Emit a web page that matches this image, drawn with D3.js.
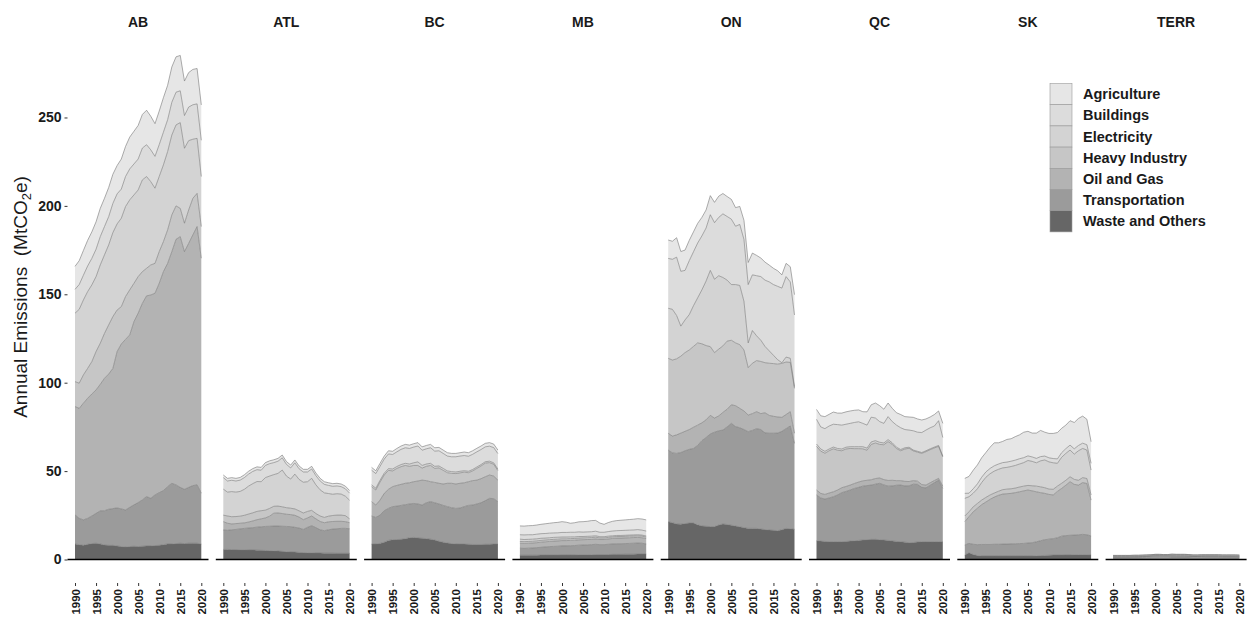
<!DOCTYPE html>
<html>
<head>
<meta charset="utf-8">
<script src="https://cdn.jsdelivr.net/npm/d3@7"></script>
<style>
  body { margin: 0; background: #fff; }
  svg { display: block; }
  text { font-family: "Liberation Sans", Arial, Helvetica, sans-serif; }
</style>
</head>
<body>
<svg id="chart" width="1250" height="618"></svg>
<script>
// ---- data -----------------------------------------------------------
const years = [1990,1991,1992,1993,1994,1995,1996,1997,1998,1999,2000,2001,2002,2003,2004,2005,
               2006,2007,2008,2009,2010,2011,2012,2013,2014,2015,2016,2017,2018,2019,2020];
const yearTicks = [1990, 1995, 2000, 2005, 2010, 2015, 2020];
const emissionTicks = [0, 50, 100, 150, 200, 250];
const regions = ["AB", "ATL", "BC", "MB", "ON", "QC", "SK", "TERR"];
// stacking order, bottom layer first
const sectors = ["Waste and Others", "Transportation", "Oil and Gas", "Heavy Industry",
                 "Electricity", "Buildings", "Agriculture"];
const sectorFills = ["#666666", "#9b9b9b", "#b3b3b3", "#c6c6c6", "#d3d3d3", "#dcdcdc", "#e6e6e6"];

// annual emissions per sector (MtCO2e), 1990-2020
const AB = {
  "Waste and Others": [8.8,8.4,8.0,8.6,9.0,9.2,8.8,8.2,8.0,8.0,7.7,7.3,7.1,7.3,7.5,7.3,7.5,7.7,7.7,7.9,8.0,8.4,8.8,8.8,9.0,9.2,9.0,9.2,9.2,9.2,8.8],
  "Transportation":   [16.4,14.9,14.4,14.7,15.6,16.9,18.7,19.4,20.4,20.8,21.5,21.3,20.9,22.2,23.4,24.9,26.2,27.9,26.9,28.6,29.8,30.6,32.4,34.3,33.2,31.6,30.7,31.6,32.6,33.0,28.7],
  "Oil and Gas":      [61.3,62.2,66.0,67.9,69.0,69.8,71.6,74.9,76.5,79.3,88.4,93.3,96.5,97.5,103.6,107.1,111.2,113.5,115.0,114.1,118.4,123.8,126.3,131.0,138.9,141.8,134.4,138.0,141.8,146.1,132.9],
  "Heavy Industry":   [14.1,14.2,16.0,16.9,18.3,21.7,23.2,25.4,27.8,29.3,23.5,21.1,24.2,25.5,21.7,20.7,17.9,15.6,17.0,16.9,17.9,17.0,18.9,20.8,18.9,16.0,16.1,18.9,20.7,18.8,17.9],
  "Electricity":      [38.7,41.8,42.4,43.4,43.4,42.4,44.3,44.4,45.2,47.5,48.7,50.0,50.9,50.9,50.0,49.0,51.9,51.9,47.1,42.5,42.5,43.4,44.3,45.2,45.8,48.5,42.4,39.2,33.4,31.1,28.3],
  "Buildings":        [13.5,14,14,14.5,15,15.5,16,16,16,16.5,17,16.5,17,17.5,17.5,17.5,18,18,18,18,18,18.5,18,18.5,18.5,18,18.5,19,19.5,19.5,20.5],
  "Agriculture":      [13,13.5,14,14.5,15,15.5,16,16,16.5,16.5,16,17,17,18,18.5,19,19,19.5,19,18.5,19,19.5,19.5,20,20,20,19.5,19.5,20,20,20]
};
const ATL = {
  "Waste and Others": [5.7,5.7,5.6,5.6,5.5,5.5,5.4,5.4,5.3,5.2,5.1,5.0,4.9,4.8,4.6,4.4,4.3,4.2,4.0,3.9,3.8,3.8,3.7,3.7,3.6,3.6,3.6,3.5,3.5,3.5,3.5],
  "Transportation":   [11.0,10.8,11.2,11.4,11.8,12.1,12.4,12.6,13.0,13.3,13.6,13.8,14.0,14.1,14.2,14.3,14.3,14.0,13.8,13.1,14.4,15.3,14.3,13.1,12.7,13.2,13.6,13.9,14.1,14.1,13.9],
  "Oil and Gas":      [4.7,4.0,3.3,3.3,3.2,3.1,3.4,3.8,4.2,4.5,4.8,5.7,7.3,7.4,7.2,6.9,6.8,6.8,6.2,5.5,5.3,5.5,5.0,4.7,4.5,4.5,4.3,4.2,4.0,3.8,3.4],
  "Heavy Industry":   [3.7,4.1,4.1,4.0,4.0,4.3,4.5,4.6,4.7,4.6,4.4,4.4,3.9,3.9,3.8,3.7,3.6,3.6,3.5,3.8,3.7,3.2,3.0,3.1,3.0,3.2,3.4,3.5,3.5,3.4,2.2],
  "Electricity":      [14.7,13.5,14.2,13.8,14.0,14.7,15.8,16.5,16.9,16.4,18.4,18.3,17.9,18.5,20.8,17.9,16.5,19.7,17.8,17.4,16.8,18.1,16.2,14.8,13.9,12.8,12.0,12.1,11.9,11.0,10.5],
  "Buildings":        [6.5,6.3,6.4,6.3,6.4,6.6,6.8,6.9,6.7,6.5,6.9,7.0,6.8,6.9,6.9,6.6,6.3,6.4,6.0,5.8,5.5,5.3,5.2,5.0,4.8,4.6,4.5,4.4,4.2,4.2,4.0],
  "Agriculture":      [1.5,1.5,1.5,1.5,1.5,1.6,1.6,1.6,1.6,1.6,1.6,1.6,1.6,1.6,1.6,1.6,1.6,1.6,1.6,1.5,1.5,1.5,1.5,1.5,1.5,1.5,1.5,1.5,1.5,1.5,1.5]
};
const BC = {
  "Waste and Others": [8.7,8.8,9.1,9.8,10.8,11.2,11.3,11.4,11.8,12.3,12.5,12.2,12.0,11.8,11.5,11.0,10.3,9.8,9.3,9.0,8.8,8.7,8.7,8.6,8.5,8.5,8.5,8.6,8.6,8.7,8.7],
  "Transportation":   [15.9,15.0,16.0,17.8,18.1,18.7,18.9,19.2,19.2,19.1,19.2,19.2,18.8,20.3,21.2,21.1,21.1,20.8,20.6,20.3,20.1,20.4,21.2,22.0,22.3,22.9,23.6,24.7,26.0,25.7,24.0],
  "Oil and Gas":      [8.1,7.0,8.5,9.8,10.8,11.3,11.7,11.9,12.1,12.0,12.3,13.0,14.1,12.5,11.3,11.5,11.7,12.1,13.2,13.8,13.8,14.0,13.5,13.4,13.8,13.5,13.6,13.5,13.2,12.8,12.2],
  "Heavy Industry":   [8.5,8.5,10.2,10.4,10.7,8.9,9.6,10.0,10.1,9.3,9.2,8.8,6.8,8.1,9.2,7.9,8.7,7.7,6.0,5.6,5.9,5.9,6.0,5.1,5.5,6.6,7.2,7.7,7.0,6.7,5.4],
  "Electricity":      [1.0,1.0,1.0,1.0,1.0,1.1,1.1,1.2,1.2,1.3,1.5,2.0,1.5,1.3,1.2,1.2,1.1,1.1,1.0,1.0,0.9,0.9,0.8,0.8,0.8,0.8,0.8,0.8,0.8,0.8,0.8],
  "Buildings":        [8.3,8.3,7.9,8.0,8.3,8.2,8.3,8.6,8.8,8.8,8.9,9.0,8.6,8.6,8.8,8.6,8.6,8.5,8.4,8.4,8.6,8.6,8.6,8.5,8.6,8.6,8.5,8.4,8.5,8.6,8.8],
  "Agriculture":      [1.6,1.6,1.7,1.7,1.8,1.8,1.9,1.9,1.9,1.9,1.9,1.9,1.9,1.9,1.9,1.9,1.9,1.9,1.9,1.9,1.9,1.9,2.0,2.0,2.0,2.0,2.0,2.0,2.0,2.0,2.0]
};
const MB = {
  "Waste and Others": [2.4,2.4,2.4,2.4,2.4,2.5,2.5,2.5,2.5,2.5,2.6,2.6,2.6,2.6,2.7,2.7,2.7,2.7,2.8,2.8,2.8,2.8,2.9,2.9,2.9,3.0,3.0,3.0,3.1,3.1,3.1],
  "Transportation":   [4.0,3.9,4.0,4.1,4.3,4.4,4.6,4.8,4.9,5.0,5.1,5.1,5.2,5.3,5.4,5.5,5.6,5.7,5.8,5.6,5.6,5.8,5.9,6.0,6.0,6.0,6.1,6.2,6.2,6.1,5.7],
  "Oil and Gas":      [2.8,2.8,2.8,2.8,2.8,2.9,2.9,2.9,3.0,3.0,3.0,3.0,3.0,3.0,3.0,3.0,3.0,3.0,3.0,2.9,2.9,3.0,3.1,3.2,3.2,3.2,3.2,3.2,3.2,3.1,3.0],
  "Heavy Industry":   [1.0,1.0,1.0,1.0,1.0,1.0,1.0,1.0,1.0,1.0,1.0,1.0,1.0,1.0,1.0,1.0,1.0,1.0,1.0,0.9,0.9,0.9,0.9,0.9,0.9,0.9,0.9,0.9,0.9,0.9,0.9],
  "Electricity":      [1.3,1.2,1.2,1.2,1.2,1.2,1.1,1.1,1.1,1.1,1.0,1.0,1.0,0.9,0.9,0.8,0.8,0.8,0.8,0.7,0.7,0.7,0.6,0.6,0.6,0.6,0.6,0.6,0.6,0.6,0.6],
  "Buildings":        [2.5,2.6,2.6,2.5,2.6,2.6,2.6,2.6,2.5,2.5,2.6,2.6,2.6,2.6,2.6,2.5,2.5,2.5,2.6,2.5,2.5,2.6,2.7,2.7,2.8,2.8,2.8,2.8,2.9,2.8,2.8],
  "Agriculture":      [5.0,5.0,5.1,5.2,5.2,5.3,5.5,5.6,5.8,5.9,6.1,5.8,5.1,5.4,5.7,5.9,6.0,6.3,6.1,5.2,4.5,5.1,5.5,5.7,5.8,5.9,6.0,6.1,6.2,6.3,6.3]
};
const ON = {
  "Waste and Others": [21.4,20.8,20.1,20.0,20.3,20.6,20.6,19.6,19.0,18.8,18.6,18.6,19.5,20.1,19.8,19.4,18.9,18.5,18.0,17.6,17.6,17.6,17.2,16.9,16.7,16.5,16.3,16.8,17.6,17.4,17.1],
  "Transportation":   [40.5,39.5,39.9,40.5,41.2,41.7,42.2,44.9,48.2,50.2,52.4,53.4,53.3,53.1,55.2,57.6,56.3,56.0,55.5,54.7,55.4,56.4,56.3,54.7,54.7,54.9,55.2,55.7,56.4,58.1,48.6],
  "Oil and Gas":      [9.5,9.5,10.5,11.0,11.0,11.2,12.0,11.5,10.1,10.0,10.5,8.0,8.4,10.0,10.0,10.5,11.8,11.0,10.5,9.4,9.5,9.6,9.0,11.4,10.1,9.6,9.1,7.9,8.0,8.1,5.7],
  "Heavy Industry":   [42.4,43.0,43.0,43.5,44.5,45.0,45.7,46.5,44.7,42.0,38.9,37.0,37.8,37.6,38.5,36.5,35.5,36.0,34.5,26.8,28.5,28.9,29.5,28.3,29.5,29.8,29.9,30.5,29.7,27.9,25.4],
  "Electricity":      [28.3,28.7,24.5,17.0,18.5,20.0,23.0,25.5,30.5,36.5,43.1,41.5,41.5,38.7,34.5,31.5,33.0,33.5,27.5,14.0,18.5,14.0,12.0,9.2,7.0,4.7,2.5,0.4,2.8,2.3,1.0],
  "Buildings":        [28.2,28.3,33.0,31.0,28.0,30.5,30.5,31.0,30.5,30.0,31.5,32.0,33.0,36.0,36.0,37.0,33.0,34.5,35.0,33.0,31.5,34.0,36.0,37.5,39.0,40.0,41.5,42.2,45.5,43.2,40.5],
  "Agriculture":      [10.4,10.2,11.0,11.2,11.5,11.5,11.3,11.1,10.5,10.2,10.8,11.5,12.0,11.5,11.3,11.2,10.5,10.2,10.8,12.5,12.3,11.5,10.5,10.2,9.5,9.2,8.8,7.5,7.5,8.6,11.5]
};
const QC = {
  "Waste and Others": [10.6,10.4,10.2,10.1,10.1,10.1,10.1,10.2,10.4,10.6,10.8,11.0,11.2,11.4,11.4,11.2,11.0,10.8,10.5,10.2,10.1,9.8,9.5,9.6,9.9,10.1,10.1,10.1,10.1,10.1,10.1],
  "Transportation":   [25.9,24.4,24.0,24.7,25.4,26.4,27.7,28.3,28.9,29.6,30.0,30.5,30.6,30.7,31.2,31.9,31.2,30.7,31.1,31.8,32.0,31.8,32.2,33.0,32.6,30.7,30.4,31.9,33.4,34.8,30.1],
  "Oil and Gas":      [2.8,2.6,2.6,2.8,2.8,2.8,2.8,2.8,2.8,2.8,3.0,3.0,3.0,3.0,3.2,3.0,3.0,3.2,3.2,2.6,2.5,2.6,2.4,2.0,1.8,1.6,1.6,1.4,1.2,1.0,1.3],
  "Heavy Industry":   [24.7,23.9,23.3,23.9,24.3,22.5,20.9,21.2,20.7,19.7,18.9,18.1,17.0,20.0,20.1,19.0,19.7,22.0,20.3,18.1,16.9,18.3,18.8,16.8,16.4,17.6,18.9,18.7,18.4,18.1,16.5],
  "Electricity":      [1.3,1.2,1.1,1.0,1.0,1.0,1.0,1.0,1.0,1.1,1.1,1.2,1.2,1.4,1.3,1.2,1.0,1.1,0.9,0.8,0.7,0.7,0.6,0.5,0.5,0.5,0.5,0.5,0.5,0.5,0.5],
  "Buildings":        [14.0,12.5,12.8,13.0,12.9,13.5,13.5,13.0,13.2,13.7,14.1,13.2,13.0,14.0,12.8,11.7,11.1,13.0,12.0,12.5,12.3,10.3,9.7,10.9,10.8,11.3,11.7,11.9,11.9,14.0,10.5],
  "Agriculture":      [5.6,6.3,6.8,6.6,6.9,6.5,6.8,7.0,7.0,6.9,6.7,6.6,7.5,7.0,8.5,9.0,8.0,7.7,7.5,7.0,7.5,7.3,7.4,7.6,7.5,7.1,6.3,6.1,6.5,5.5,8.0]
};
const SK = {
  "Waste and Others": [2.5,3.8,2.8,2.2,2.0,2.0,2.0,2.0,2.0,2.0,2.0,2.0,2.0,2.0,2.0,2.0,2.0,2.1,2.2,2.3,2.4,2.5,2.5,2.5,2.6,2.6,2.7,2.7,2.7,2.7,2.6],
  "Transportation":   [5.7,5.3,5.8,6.2,6.5,6.5,6.5,6.6,6.6,6.7,6.7,6.8,6.9,7.0,7.1,7.3,7.5,7.9,8.4,8.9,9.1,9.3,9.8,10.7,10.9,11.1,11.1,11.3,11.5,11.3,10.7],
  "Oil and Gas":      [13.2,15.1,18.4,20.6,22.5,24.0,25.5,26.7,27.7,28.3,28.5,28.6,28.9,29.3,29.7,30.0,29.3,28.3,27.2,26.2,25.3,24.7,26.2,27.0,28.5,30.3,28.7,28.1,29.3,29.0,20.3],
  "Heavy Industry":   [3.2,2.8,2.8,2.7,2.6,2.6,2.5,2.3,2.3,2.5,2.6,2.6,2.6,2.7,2.7,2.6,2.9,3.2,3.3,3.2,3.0,3.2,3.0,2.9,2.8,2.8,2.8,2.7,2.8,2.8,2.9],
  "Electricity":      [10.0,8.5,7.7,8.3,9.9,11.4,12.0,12.4,12.4,12.3,12.3,12.6,12.8,13.0,13.3,14.1,13.8,13.2,14.7,15.7,15.4,15.0,12.9,14.7,15.2,15.1,14.3,16.7,16.5,16.1,14.1],
  "Buildings":        [2.8,2.0,2.5,2.8,3.0,3.0,3.0,3.0,3.0,3.0,3.0,3.0,3.0,3.0,2.8,2.6,2.5,2.5,2.4,2.2,2.3,2.4,2.5,2.6,2.7,2.8,3.0,3.0,3.0,3.0,3.8],
  "Agriculture":      [8.5,9.5,10.5,10.7,11.0,11.0,12.0,13.0,12.0,12.0,12.8,12.7,13.3,13.5,14.4,13.9,13.5,14.3,14.8,13.5,13.8,14.2,14.9,13.8,13.3,13.8,14.9,15.3,15.3,14.4,12.2]
};
const TERR = {
  "Waste and Others": [0.2,0.2,0.2,0.2,0.2,0.2,0.2,0.2,0.2,0.2,0.2,0.2,0.2,0.2,0.2,0.2,0.2,0.2,0.2,0.2,0.2,0.2,0.2,0.2,0.2,0.2,0.2,0.2,0.2,0.2,0.2],
  "Transportation":   [0.8,0.8,0.8,0.8,0.8,0.9,0.9,0.9,1.0,1.0,1.1,1.1,1.1,1.1,1.2,1.2,1.2,1.2,1.2,1.1,1.1,1.1,1.1,1.1,1.1,1.1,1.1,1.1,1.1,1.1,1.0],
  "Oil and Gas":      [0.4,0.4,0.4,0.4,0.4,0.4,0.4,0.5,0.5,0.6,0.7,0.7,0.6,0.6,0.6,0.5,0.5,0.5,0.4,0.4,0.4,0.4,0.3,0.3,0.3,0.3,0.2,0.2,0.2,0.2,0.2],
  "Heavy Industry":   [0.1,0.1,0.1,0.1,0.1,0.1,0.1,0.1,0.1,0.1,0.1,0.1,0.1,0.1,0.1,0.1,0.1,0.1,0.1,0.1,0.1,0.2,0.3,0.3,0.3,0.3,0.3,0.3,0.3,0.3,0.3],
  "Electricity":      [0.3,0.3,0.3,0.3,0.3,0.3,0.3,0.3,0.3,0.3,0.3,0.3,0.3,0.3,0.4,0.4,0.4,0.4,0.4,0.3,0.3,0.3,0.3,0.3,0.3,0.3,0.3,0.3,0.3,0.3,0.3],
  "Buildings":        [0.5,0.5,0.5,0.5,0.5,0.5,0.5,0.5,0.5,0.5,0.5,0.5,0.5,0.5,0.5,0.5,0.5,0.5,0.5,0.5,0.5,0.5,0.5,0.5,0.5,0.5,0.5,0.5,0.5,0.5,0.5],
  "Agriculture":      [0.0,0.0,0.0,0.0,0.0,0.0,0.0,0.0,0.0,0.0,0.0,0.0,0.0,0.0,0.0,0.0,0.0,0.0,0.0,0.0,0.0,0.0,0.0,0.0,0.0,0.0,0.0,0.0,0.0,0.0,0.0]
};
const regionData = { AB, ATL, BC, MB, ON, QC, SK, TERR };

// ---- layout -----------------------------------------------------------
const svg = d3.select("#chart");
const panelLeft0 = 67.5, panelStep = 148.3, panelWidth = 141;
const zeroY = 559.5, topY = 55.6;        // pixel rows for 0 and 285 MtCO2e
const panelBottom = 583;

const x = d3.scaleLinear().domain([1990, 2020]).range([7.5, 133.8]);
const y = d3.scaleLinear().domain([0, 285]).range([zeroY, topY]);
const fill = d3.scaleOrdinal().domain(sectors).range(sectorFills);

const stack = d3.stack().keys(sectors);
const area = d3.area()
  .x(d => x(d.data.year))
  .y0(d => y(d[0]))
  .y1(d => y(d[1]));
const upper = d3.line()
  .x(d => x(d.data.year))
  .y(d => y(d[1]));

regions.forEach((region, i) => {
  const left = panelLeft0 + i * panelStep;
  const g = svg.append("g").attr("transform", `translate(${left},0)`);
  const src = regionData[region];
  const rows = years.map((yr, k) => {
    const row = { year: yr };
    sectors.forEach(s => { row[s] = src[s][k]; });
    return row;
  });
  const layers = stack(rows);

  g.selectAll("path.layer").data(layers).join("path")
    .attr("class", "layer")
    .attr("d", area)
    .attr("fill", d => fill(d.key));

  g.selectAll("path.edge").data(layers).join("path")
    .attr("class", "edge")
    .attr("d", upper)
    .attr("fill", "none")
    .attr("stroke", "#777")
    .attr("stroke-width", 0.6);

  // baseline at zero
  g.append("line")
    .attr("x1", 0).attr("x2", panelWidth)
    .attr("y1", y(0)).attr("y2", y(0))
    .attr("stroke", "#000").attr("stroke-width", 1.4);

  // strip label
  g.append("text")
    .attr("x", panelWidth / 2).attr("y", 27)
    .attr("text-anchor", "middle")
    .attr("font-size", 14).attr("font-weight", "bold").attr("fill", "#1a1a1a")
    .text(region);

  // x axis
  const xa = g.append("g").attr("transform", `translate(0,${panelBottom})`);
  xa.call(d3.axisBottom(x).tickValues(yearTicks).tickFormat(d3.format("d"))
      .tickSize(3).tickPadding(2));
  xa.select(".domain").remove();
  xa.selectAll(".tick line").attr("stroke", "#333");
  xa.selectAll(".tick text")
    .attr("transform", "rotate(-90)")
    .attr("x", -6).attr("y", 0).attr("dy", "0.35em")
    .attr("text-anchor", "end")
    .attr("font-family", null)
    .attr("font-size", 11.5).attr("font-weight", "bold").attr("fill", "#1a1a1a");
});

// y axis on the first panel
const ya = svg.append("g").attr("transform", `translate(${panelLeft0},0)`);
ya.call(d3.axisLeft(y).tickValues(emissionTicks).tickSize(3).tickPadding(3));
ya.select(".domain").remove();
ya.selectAll(".tick line").attr("stroke", "#333");
ya.selectAll(".tick text")
  .attr("font-family", null)
  .attr("font-size", 14).attr("font-weight", "bold").attr("fill", "#1a1a1a");

// y axis title with subscript
const yt = svg.append("text")
  .attr("transform", "translate(27,297) rotate(-90)")
  .attr("text-anchor", "middle")
  .attr("font-size", 19).attr("fill", "#1a1a1a");
yt.append("tspan").text("Annual Emissions\u00a0 (MtCO");
yt.append("tspan").attr("font-size", 13).attr("dy", 4).text("2");
yt.append("tspan").attr("dy", -4).text("e)");

// legend, top item first
const legendItems = sectors.slice().reverse();
const legend = svg.append("g").attr("transform", "translate(1050,83.5)");
const keyH = 21.2, keyW = 22;
legendItems.forEach((s, k) => {
  legend.append("rect")
    .attr("x", 0).attr("y", k * keyH)
    .attr("width", keyW).attr("height", keyH)
    .attr("fill", fill(s))
    .attr("stroke", "#9a9a9a").attr("stroke-width", 0.6);
  legend.append("text")
    .attr("x", 33).attr("y", k * keyH + keyH / 2).attr("dy", "0.35em")
    .attr("font-size", 14.5).attr("font-weight", "bold").attr("fill", "#1a1a1a")
    .text(s);
});
</script>
</body>
</html>
